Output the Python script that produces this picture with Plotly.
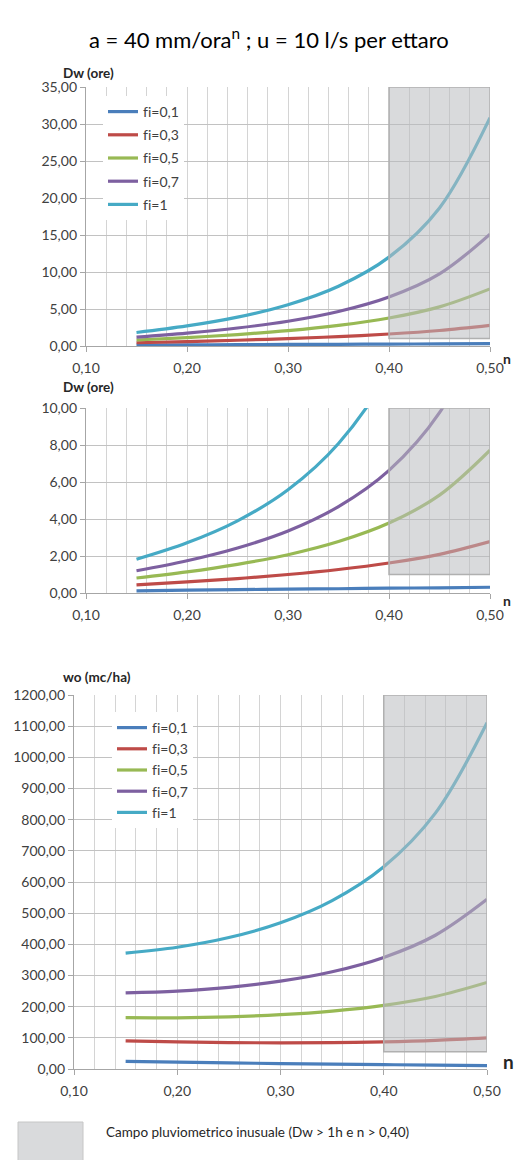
import plotly.graph_objects as go

# ---------------- data ----------------
n_values = [0.15, 0.20, 0.25, 0.30, 0.35, 0.40, 0.45, 0.50]
series_names = ["f\u200ci=0,1", "f\u200ci=0,3", "f\u200ci=0,5", "f\u200ci=0,7", "f\u200ci=1"]
series_colors = ["#4A7EBB", "#BE4B48", "#98B954", "#7D60A0", "#46AAC5"]

dw_fi01 = [0.12, 0.15, 0.18, 0.21, 0.23, 0.26, 0.28, 0.31]
dw_fi03 = [0.44, 0.60, 0.78, 1.00, 1.27, 1.62, 2.09, 2.78]
dw_fi05 = [0.81, 1.14, 1.55, 2.07, 2.78, 3.78, 5.29, 7.72]
dw_fi07 = [1.20, 1.74, 2.43, 3.35, 4.67, 6.63, 9.75, 15.12]
dw_fi1 = [1.82, 2.71, 3.90, 5.58, 8.08, 12.01, 18.66, 30.86]

wo_fi01 = [24.78, 21.97, 19.57, 17.49, 15.64, 13.98, 12.48, 11.11]
wo_fi03 = [90.26, 86.75, 84.69, 84.00, 84.75, 87.22, 91.97, 100.00]
wo_fi05 = [164.62, 164.27, 167.36, 174.26, 185.97, 204.35, 232.80, 277.78]
wo_fi07 = [244.57, 250.16, 262.11, 281.82, 312.08, 358.04, 429.21, 544.45]
wo_fi1 = [372.08, 390.71, 421.72, 469.09, 540.23, 648.77, 820.93, 1111.10]

dw_series = [dw_fi01, dw_fi03, dw_fi05, dw_fi07, dw_fi1]
wo_series = [wo_fi01, wo_fi03, wo_fi05, wo_fi07, wo_fi1]

shade_n = [0.40, 0.50]
shade_dw = [1.0, 35.0]
shade_dw_zoom = [1.0, 10.0]
shade_wo = [55.0, 1200.0]

title_text = "a = 40 mm/ora<sup>n</sup> ; u = 10 l/s per ettaro"
note_text = "Campo pluviometrico inusuale (Dw &gt; 1h e n &gt; 0,40)"

FONT = "Lato, 'Open Sans', sans-serif"
W, H = 522, 1160

fig = go.Figure()

for i, (name, col, dw, wo) in enumerate(zip(series_names, series_colors, dw_series, wo_series)):
    fig.add_trace(go.Scatter(x=n_values, y=dw, mode="lines", name=name,
                             line=dict(color=col, width=3.2, shape="spline"),
                             xaxis="x", yaxis="y", legend="legend", legendgroup="a%d" % i,
                             showlegend=True))
    fig.add_trace(go.Scatter(x=n_values, y=dw, mode="lines", name=name,
                             line=dict(color=col, width=3.2, shape="spline"),
                             xaxis="x2", yaxis="y2", showlegend=False))
    fig.add_trace(go.Scatter(x=n_values, y=wo, mode="lines", name=name,
                             line=dict(color=col, width=3.2, shape="spline"),
                             xaxis="x3", yaxis="y3", legend="legend2", legendgroup="b%d" % i,
                             showlegend=True))


def px_x(p):
    return p / W


def px_y(p):
    return 1 - p / H


grid_h = "#C2C2C2"
grid_v = "#D4D4D4"
axis_col = "#A6A6A6"

xcommon = dict(range=[0.1, 0.5], tick0=0.1, dtick=0.1, tickformat=".2f",
               showgrid=True, gridcolor=grid_v, gridwidth=1.3,
               minor=dict(dtick=0.02, tick0=0.1, showgrid=True, gridcolor=grid_v, gridwidth=1.3),
               showline=True, linecolor=axis_col, linewidth=1.3,
               ticks="outside", ticklen=5, tickcolor=axis_col, ticklabelstandoff=4,
               zeroline=False, automargin=False,
               tickfont=dict(size=14, color="#404040", family=FONT),
               fixedrange=True)
ycommon = dict(showgrid=True, gridcolor=grid_h, gridwidth=1.3, tickformat=".2f",
               showline=True, linecolor=axis_col, linewidth=1.3,
               ticks="outside", ticklen=5, tickcolor=axis_col,
               zeroline=False, automargin=False,
               tickfont=dict(size=14, color="#404040", family=FONT),
               fixedrange=True)

fig.update_layout(
    width=W, height=H, margin=dict(l=0, r=0, t=0, b=0, autoexpand=False),
    paper_bgcolor="white", plot_bgcolor="white",
    separators=",.",
    font=dict(family=FONT, color="#404040"),
    xaxis=dict(xcommon, domain=[px_x(86), px_x(490)], anchor="y"),
    yaxis=dict(ycommon, domain=[px_y(346), px_y(87)], range=[0, 35], dtick=5, anchor="x"),
    xaxis2=dict(xcommon, domain=[px_x(86), px_x(490)], anchor="y2"),
    yaxis2=dict(ycommon, domain=[px_y(593), px_y(408)], range=[0, 10], dtick=2, anchor="x2"),
    xaxis3=dict(xcommon, domain=[px_x(74), px_x(487)], anchor="y3"),
    yaxis3=dict(ycommon, domain=[px_y(1069), px_y(695)], range=[0, 1200], dtick=100, anchor="x3"),
    legend=dict(x=px_x(103), y=px_y(96), xanchor="left", yanchor="top",
                bgcolor="white", font=dict(size=14, color="#404040", family=FONT),
                itemwidth=30, tracegroupgap=2),
    legend2=dict(x=px_x(112), y=px_y(712), xanchor="left", yanchor="top",
                 bgcolor="white", font=dict(size=14, color="#404040", family=FONT),
                 itemwidth=30, tracegroupgap=0),
    showlegend=True,
)

shade_style = dict(type="rect", fillcolor="rgba(185,187,191,0.55)",
                   line=dict(color="#B0B0B0", width=1.5), layer="above")
fig.add_shape(shade_style, xref="x", yref="y", x0=shade_n[0], x1=shade_n[1], y0=shade_dw[0], y1=shade_dw[1])
fig.add_shape(shade_style, xref="x2", yref="y2", x0=shade_n[0], x1=shade_n[1], y0=shade_dw_zoom[0], y1=shade_dw_zoom[1])
fig.add_shape(shade_style, xref="x3", yref="y3", x0=shade_n[0], x1=shade_n[1], y0=shade_wo[0], y1=shade_wo[1])

# legend key for the shaded zone
fig.add_shape(type="rect", xref="paper", yref="paper",
              x0=px_x(18), x1=px_x(83), y0=px_y(1162), y1=px_y(1122),
              fillcolor="#D9DADC", line=dict(color="#C6C6C6", width=1))

ann = []
ann.append(dict(text=title_text, x=px_x(269), y=px_y(22), xref="paper", yref="paper",
                showarrow=False, font=dict(size=22, color="#000000", family=FONT)))
for txt, xc, yc in [("Dw (ore)", 61, 63), ("Dw (ore)", 61, 387), ("wo (mc/ha)", 61, 677)]:
    ann.append(dict(text="<b>" + txt + "</b>", x=px_x(xc), y=px_y(yc), xref="paper", yref="paper",
                    showarrow=False, font=dict(size=13.5, color="#262626", family=FONT)))
for xc, yc, sz in [(513, 348, 14), (513, 600, 14), (516, 1075, 19)]:
    ann.append(dict(text="<b>n</b>", x=px_x(xc), y=px_y(yc), xref="paper", yref="paper",
                    showarrow=False, font=dict(size=sz, color="#262626", family=FONT)))
ann.append(dict(text=note_text, x=px_x(104), y=px_y(1142), xref="paper", yref="paper",
                xanchor="left", showarrow=False, font=dict(size=13.5, color="#262626", family=FONT)))
fig.update_layout(annotations=ann)

fig.write_html(
    "out.html",
    config={"displayModeBar": False, "staticPlot": False},
    post_script="document.body.style.margin='0';document.body.style.overflow='hidden';"
                "document.documentElement.style.overflow='hidden';",
)
